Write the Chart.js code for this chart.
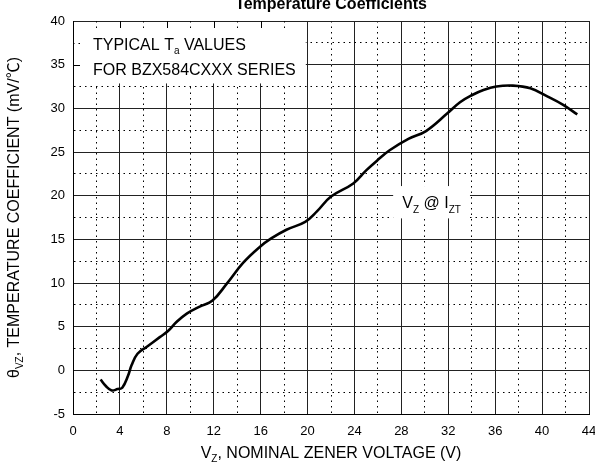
<!DOCTYPE html>
<html>
<head>
<meta charset="utf-8">
<script src="https://cdn.jsdelivr.net/npm/chart.js@4/dist/chart.umd.min.js"></script>
<style>
  html, body { margin: 0; padding: 0; background: #fff; }
  #wrap { width: 595px; height: 468px; }
</style>
</head>
<body>
<div id="wrap"><canvas id="c" width="595" height="468"></canvas></div>
<script>
// ---- data ----
const zenerVoltage = [2.35, 2.8, 3.3, 3.8, 4.2, 4.7, 5.0, 5.5, 6.3, 7.4, 8.1, 8.8, 9.7, 10.8, 11.9, 13.1, 14.5, 15.9, 16.9, 18.2, 19.8, 20.8, 22.0, 23.9, 25.0, 26.0, 27.0, 28.6, 30.1, 31.9, 33.0, 34.0, 35.0, 36.1, 37.5, 39.0, 40.4, 41.8, 43.0];
const tempCoeff    = [-1.05, -1.8, -2.3, -2.15, -2.0, -0.6, 0.6, 1.9, 2.7, 3.8, 4.5, 5.5, 6.5, 7.3, 8.0, 9.9, 12.3, 14.1, 15.1, 16.1, 17.0, 18.2, 19.9, 21.4, 22.9, 24.1, 25.2, 26.5, 27.4, 29.4, 30.7, 31.5, 32.1, 32.5, 32.6, 32.3, 31.4, 30.4, 29.3];
const xTickLabels = [0, 4, 8, 12, 16, 20, 24, 28, 32, 36, 40, 44];
const yTickLabels = [-5, 0, 5, 10, 15, 20, 25, 30, 35, 40];
const chartTitle = 'Temperature Coefficients';
const xTitleParts = [['V', 0], ['Z', 1], [', NOMINAL ZENER VOLTAGE (V)', 0]];
const yTitleParts = [['θ', 0], ['VZ', 1], [', TEMPERATURE COEFFICIENT (mV/', 0], ['℃', 2], [')', 0]];
const noteLine1 = [['TYPICAL T', 0], ['a', 1], [' VALUES', 0]];
const noteLine2 = [['FOR BZX584CXXX SERIES', 0]];
const curveLabel = [['V', 0], ['Z', 1], [' @ I', 0], ['ZT', 1]];

const FONT = '"Liberation Sans", Arial, sans-serif';
const CJK = '"Noto Sans CJK SC", sans-serif';
const points = zenerVoltage.map((v, i) => ({ x: v, y: tempCoeff[i] }));
const minorDash = [1.5, 4];

function partFont(kind, size) {
  if (kind === 1) return Math.round(size * 0.62) + 'px ' + FONT;
  if (kind === 2) return size + 'px ' + CJK;
  return size + 'px ' + FONT;
}
function richWidth(ctx, parts, size) {
  let w = 0;
  for (const [t, k] of parts) { ctx.font = partFont(k, size); w += ctx.measureText(t).width; }
  return w;
}
function drawRich(ctx, parts, x, y, size, align) {
  const w = richWidth(ctx, parts, size);
  let cx = align === 'center' ? x - w / 2 : x;
  ctx.textAlign = 'left';
  ctx.textBaseline = 'alphabetic';
  for (const [t, k] of parts) {
    ctx.font = partFont(k, size);
    ctx.fillText(t, cx, y + (k === 1 ? size * 0.28 : 0));
    cx += ctx.measureText(t).width;
  }
}

const decor = {
  id: 'decor',
  beforeDatasetsDraw(chart) {
    const { ctx, chartArea: a, scales: { x, y } } = chart;
    ctx.save();
    const bx1 = x.getPixelForValue(0) + 1, bx2 = x.getPixelForValue(19.85);
    const by1 = y.getPixelForValue(40) + 1, by2 = y.getPixelForValue(32.85);
    ctx.fillStyle = '#fff';
    ctx.fillRect(bx1, by1, bx2 - bx1, by2 - by1);
    ctx.strokeStyle = '#000';
    ctx.lineWidth = 1;
    for (let v = 2; v <= 18; v += 2) {
      const px = Math.round(x.getPixelForValue(v)) + 0.5;
      ctx.setLineDash(v % 4 === 0 ? [] : minorDash);
      ctx.beginPath(); ctx.moveTo(px, a.top); ctx.lineTo(px, a.top + 7); ctx.stroke();
    }
    for (const v of [37.5, 35]) {
      const py = Math.round(y.getPixelForValue(v)) + 0.5;
      ctx.setLineDash(v % 5 === 0 ? [] : minorDash);
      ctx.beginPath(); ctx.moveTo(a.left, py); ctx.lineTo(a.left + 7, py); ctx.stroke();
    }
    ctx.setLineDash([]);
    const cx1 = x.getPixelForValue(27.3), cx2 = x.getPixelForValue(33.85);
    const cy1 = y.getPixelForValue(21.1), cy2 = y.getPixelForValue(17.4);
    ctx.fillStyle = '#fff';
    ctx.fillRect(cx1, cy1, cx2 - cx1, cy2 - cy1);
    ctx.fillStyle = '#000';
    drawRich(ctx, noteLine1, a.left + 20, a.top + 29, 16, 'left');
    drawRich(ctx, noteLine2, a.left + 20, a.top + 54, 16, 'left');
    drawRich(ctx, curveLabel, (cx1 + cx2) / 2, (cy1 + cy2) / 2 + 6, 16, 'center');
    ctx.restore();
  },
  afterDraw(chart) {
    const { ctx, chartArea: a } = chart;
    ctx.save();
    ctx.fillStyle = '#000';
    ctx.font = 'bold 16px ' + FONT;
    ctx.textAlign = 'center';
    ctx.textBaseline = 'alphabetic';
    ctx.fillText(chartTitle, (a.left + a.right) / 2, 9);
    drawRich(ctx, xTitleParts, (a.left + a.right) / 2, 458, 16, 'center');
    ctx.translate(19, (a.top + a.bottom) / 2);
    ctx.rotate(-Math.PI / 2);
    drawRich(ctx, yTitleParts, 0, 0, 16, 'center');
    ctx.restore();
  }
};

const isMinor = c => c.tick && ((c.scale.axis === 'x' && c.tick.value % 4 !== 0) || (c.scale.axis === 'y' && c.tick.value % 5 !== 0));
const gridColor = c => isMinor(c) ? '#000' : '#222';
const gridDash = c => isMinor(c) ? minorDash : [];

new Chart(document.getElementById('c'), {
  type: 'line',
  data: {
    datasets: [{
      data: points,
      borderColor: '#000',
      borderWidth: 2.6,
      pointRadius: 0,
      fill: false,
      tension: 0.4
    }]
  },
  options: {
    responsive: false,
    devicePixelRatio: 1,
    animation: false,
    layout: { padding: { top: 21, right: 6, left: 0, bottom: 0 } },
    plugins: { legend: { display: false }, tooltip: { enabled: false }, title: { display: false } },
    scales: {
      x: {
        type: 'linear',
        min: 0, max: 44,
        afterFit: s => { s.height = 54; s.paddingRight = 0; s.paddingLeft = 0; },
        ticks: {
          stepSize: 2, autoSkip: false, maxRotation: 0, padding: 10,
          color: '#000', font: { family: FONT, size: 13 },
          callback: v => xTickLabels.includes(v) ? String(v) : ''
        },
        grid: { color: gridColor, lineWidth: 1, drawTicks: false },
        border: { color: '#000', width: 1, dash: gridDash }
      },
      y: {
        type: 'linear',
        min: -5, max: 40,
        afterFit: s => { s.width = 73; },
        ticks: {
          stepSize: 2.5, autoSkip: false, padding: 8,
          color: '#000', font: { family: FONT, size: 13 },
          callback: v => yTickLabels.includes(v) ? String(v) : ''
        },
        grid: { color: gridColor, lineWidth: 1, drawTicks: false },
        border: { color: '#000', width: 1, dash: gridDash }
      }
    }
  },
  plugins: [decor]
});
</script>
</body>
</html>
